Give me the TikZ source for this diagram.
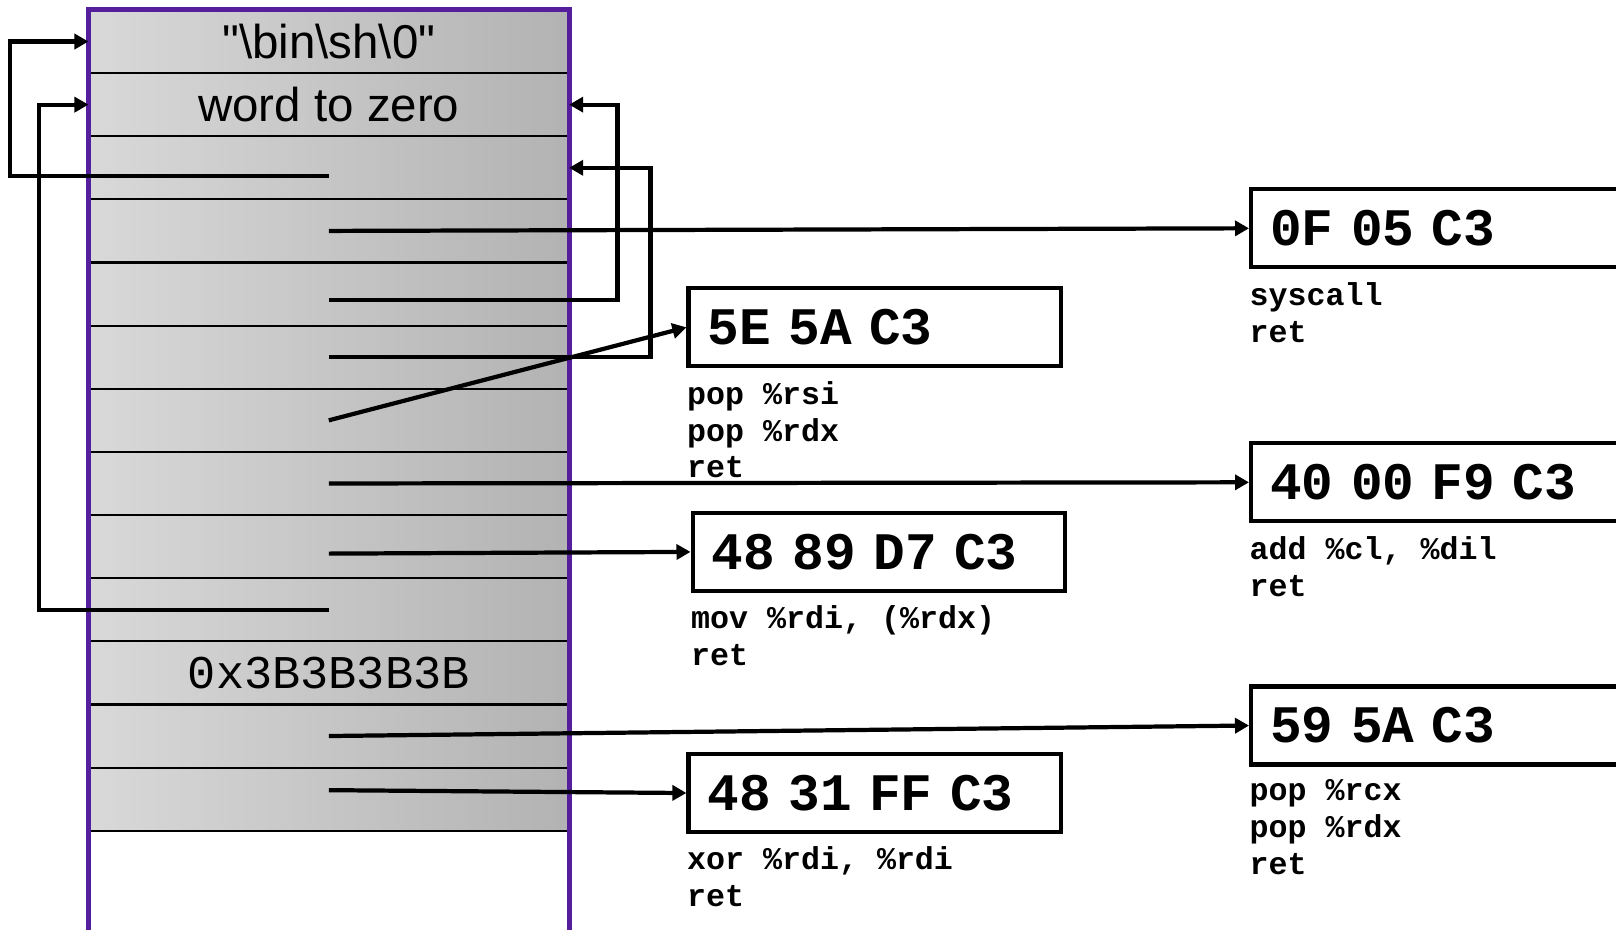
\documentclass[tikz,border=0pt]{standalone}
\usepackage{fontspec}
\setmainfont{Liberation Sans}
\setmonofont{Liberation Mono}
\usepackage{xcolor}
\usepackage{tikz}
\usetikzlibrary{arrows.meta, positioning, calc}

\definecolor{stackpurple}{RGB}{84,30,156}

\begin{document}
\begin{tikzpicture}[
    x=0.01cm, y=-0.01cm,
    cell/.style={rectangle, draw, line width=0.6pt, minimum width=4.804cm, minimum height=0.631cm, inner sep=0pt, outer sep=0pt, left color=gray!30, right color=gray!60, font=\fontsize{13.5}{16}\selectfont},
    stackframe/.style={draw=stackpurple, line width=1.4pt},
    gadget/.style={rectangle, draw, line width=1.2pt, minimum height=0.78cm, inner xsep=0.19cm, text width=3.34cm, align=left, anchor=west, font=\ttfamily\bfseries\fontsize{15}{18}\selectfont},
    widegadget/.style={gadget, text width=3.82cm},
    note/.style={inner sep=0pt, align=left, font=\ttfamily\bfseries\fontsize{9}{10.5}\selectfont},
    ptr/.style={line width=1.2pt, -{Triangle[length=0.14cm, width=0.15cm]}},
]
\useasboundingbox (0,0) rectangle (1616,929);
\clip (0,0) rectangle (1616,929);

% Stack
\node (row1) [cell] at (328.8,41.5) {\textquotedbl\textbackslash bin\textbackslash sh\textbackslash 0\textquotedbl};
\node (row2) [cell, below=0pt of row1] {word to zero};
\node (row3) [cell, below=0pt of row2] {};
\node (row4) [cell, below=0pt of row3] {};
\node (row5) [cell, below=0pt of row4] {};
\node (row6) [cell, below=0pt of row5] {};
\node (row7) [cell, below=0pt of row6] {};
\node (row8) [cell, below=0pt of row7] {};
\node (row9) [cell, below=0pt of row8] {};
\node (row10) [cell, below=0pt of row9] {};
\node (row11) [cell, below=0pt of row10, font=\ttfamily\fontsize{13.35}{16}\selectfont] {0x3B3B3B3B};
\node (row12) [cell, below=0pt of row11] {};
\node (row13) [cell, below=0pt of row12] {};

% Stack frame
\draw [stackframe] ([yshift=-1.5cm]row13.south west) -- (row1.north west) -- (row1.north east) -- ([yshift=-1.5cm]row13.south east);

% Gadgets
\node (g0F) [widegadget] at (1249,228.3) {0F 05 C3};
\node (g5E) [gadget] at (686.4,327.3) {5E 5A C3};
\node (g40) [widegadget] at (1249,482.3) {40 00 F9 C3};
\node (g4889) [gadget] at (690.5,551.9) {48 89 D7 C3};
\node (g59) [widegadget] at (1249,725.5) {59 5A C3};
\node (g4831) [gadget] at (686.4,793) {48 31 FF C3};

% Gadget notes
\node (n0F) [note, below=0.12cm of g0F.south west, anchor=north west] {syscall\\ret};
\node (n5E) [note, below=0.12cm of g5E.south west, anchor=north west] {pop \%rsi\\pop \%rdx\\ret};
\node (n40) [note, below=0.12cm of g40.south west, anchor=north west] {add \%cl, \%dil\\ret};
\node (n4889) [note, below=0.12cm of g4889.south west, anchor=north west] {mov \%rdi, (\%rdx)\\ret};
\node (n59) [note, below=0.12cm of g59.south west, anchor=north west] {pop \%rcx\\pop \%rdx\\ret};
\node (n4831) [note, below=0.12cm of g4831.south west, anchor=north west] {xor \%rdi, \%rdi\\ret};

% Pointers within the stack
\draw [ptr] ([yshift=-0.08cm]row3.center) -| ([xshift=-0.783cm]row1.west) -- (row1.west);
\draw [ptr] (row10.center) -| ([xshift=-0.494cm]row2.west) -- (row2.west);
\draw [ptr] ([yshift=-0.06cm]row5.center) -| ([xshift=0.483cm]row2.east) -- (row2.east);
\draw [ptr] (row6.center) -| ([xshift=0.813cm]row3.east) -- (row3.east);

% Pointers to gadgets
\draw [ptr] (row4.center) -- (g0F.west);
\draw [ptr] (row7.center) -- (g5E.west);
\draw [ptr] (row8.center) -- (g40.west);
\draw [ptr] ([yshift=-0.07cm]row9.center) -- (g4889.west);
\draw [ptr] (row12.center) -- (g59.west);
\draw [ptr] ([yshift=0.09cm]row13.center) -- (g4831.west);

\end{tikzpicture}
\end{document}
